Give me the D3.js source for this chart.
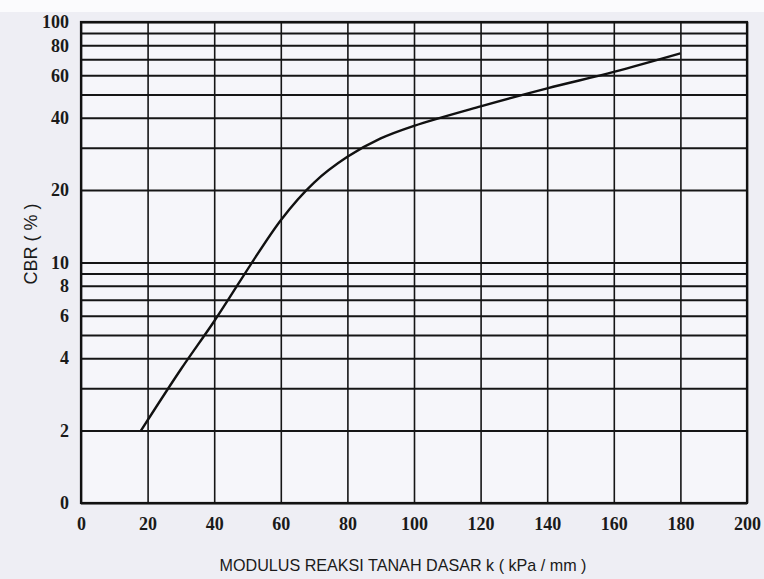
<!DOCTYPE html>
<html>
<head>
<meta charset="utf-8">
<style>
  body { margin: 0; background: #eeeef4; }
  svg { display: block; }
</style>
</head>
<body>
<div id="chart"></div>
<script src="https://cdnjs.cloudflare.com/ajax/libs/d3/7.8.5/d3.min.js"></script>
<script>
// curve: k (kPa/mm) vs CBR (%)
var kValues   = [18, 30, 40, 60, 70, 80, 90, 100, 120, 140, 160, 180];
var cbrValues = [2, 3.6, 5.7, 15, 21.5, 27.5, 32.8, 37, 44.6, 53, 62, 74];

// y ticks (log scale, the bottom line is labelled "0")
var yTickValues = [1, 2, 4, 6, 8, 10, 20, 40, 60, 80, 100];
var yTickLabels = ["0", "2", "4", "6", "8", "10", "20", "40", "60", "80", "100"];
var yGridValues = [1, 2, 3, 4, 5, 6, 7, 8, 9, 10, 20, 30, 40, 50, 60, 70, 80, 90, 100];

var xTickValues = [0, 20, 40, 60, 80, 100, 120, 140, 160, 180, 200];

var W = 764, H = 579;
var margin = {top: 22, right: 17, bottom: 76, left: 81};

var svg = d3.select("#chart").append("svg")
    .attr("width", W)
    .attr("height", H);

svg.append("rect").attr("width", W).attr("height", 12).attr("fill", "#fbfbfd");

var x = d3.scaleLinear().domain([0, 200]).range([margin.left, W - margin.right]);
var y = d3.scaleLog().domain([1, 100]).range([H - margin.bottom, margin.top]);

// plot background
svg.append("rect")
    .attr("x", x(0)).attr("y", y(100))
    .attr("width", x(200) - x(0)).attr("height", y(1) - y(100))
    .attr("fill", "#f6f6fa");

// horizontal grid
svg.append("g")
    .attr("transform", "translate(" + x(0) + ",0)")
    .call(d3.axisLeft(y).tickValues(yGridValues).tickSize(-(x(200) - x(0))).tickFormat(""))
    .call(function(g) { g.select(".domain").remove(); })
    .selectAll("line")
      .attr("stroke", "#161616")
      .attr("stroke-width", 2);

// vertical grid
svg.append("g")
    .attr("transform", "translate(0," + y(1) + ")")
    .call(d3.axisBottom(x).tickValues(xTickValues).tickSize(-(y(1) - y(100))).tickFormat(""))
    .call(function(g) { g.select(".domain").remove(); })
    .selectAll("line")
      .attr("stroke", "#161616")
      .attr("stroke-width", 1.6);

// frame
svg.append("rect")
    .attr("x", x(0)).attr("y", y(100))
    .attr("width", x(200) - x(0)).attr("height", y(1) - y(100))
    .attr("fill", "none")
    .attr("stroke", "#111")
    .attr("stroke-width", 2.2);

// y tick labels
svg.append("g")
    .attr("transform", "translate(" + (x(0) - 12) + ",0)")
    .call(d3.axisLeft(y).tickValues(yTickValues).tickSize(0).tickPadding(0)
      .tickFormat(function(d, i) { return yTickLabels[i]; }))
    .call(function(g) { g.select(".domain").remove(); })
    .selectAll("text")
      .attr("fill", "#1a1a1a")
      .style("font-family", "'Liberation Serif', 'DejaVu Serif', serif")
      .style("font-weight", "bold")
      .style("font-size", "18px");

// x tick labels
svg.append("g")
    .attr("transform", "translate(0," + (y(1) + 14) + ")")
    .call(d3.axisBottom(x).tickValues(xTickValues).tickSize(0).tickPadding(0))
    .call(function(g) { g.select(".domain").remove(); })
    .selectAll("text")
      .attr("fill", "#1a1a1a")
      .style("font-family", "'Liberation Serif', 'DejaVu Serif', serif")
      .style("font-weight", "bold")
      .style("font-size", "18px");

// the curve
var line = d3.line()
    .x(function(d, i) { return x(kValues[i]); })
    .y(function(d) { return y(d); })
    .curve(d3.curveCatmullRom.alpha(0.5));

svg.append("path")
    .datum(cbrValues)
    .attr("d", line)
    .attr("fill", "none")
    .attr("stroke", "#111")
    .attr("stroke-width", 2.4);

// axis titles
svg.append("text")
    .attr("x", 403)
    .attr("y", 571)
    .attr("text-anchor", "middle")
    .attr("textLength", 367)
    .attr("lengthAdjust", "spacingAndGlyphs")
    .attr("fill", "#1a1a1a")
    .style("font-family", "'Liberation Sans', Arial, sans-serif")
    .style("font-size", "17px")
    .text("MODULUS REAKSI TANAH DASAR  k ( kPa / mm )");

svg.append("text")
    .attr("transform", "translate(37,244) rotate(-90)")
    .attr("text-anchor", "middle")
    .attr("fill", "#1a1a1a")
    .style("font-family", "'Liberation Sans', Arial, sans-serif")
    .style("font-size", "18px")
    .text("CBR ( % )");
</script>
</body>
</html>
